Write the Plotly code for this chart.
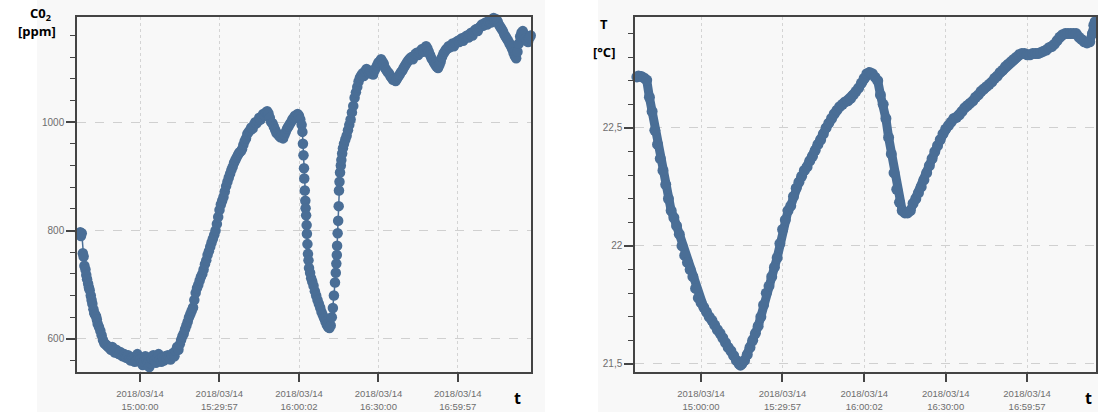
import pandas as pd
import plotly.graph_objects as go

# ---------------- data (minutes relative to 2018/03/14 15:00:00) ----------------
co2_minutes = [
    -22.6, -22.3, -22.0, -21.6, -21.3, -21.0, -20.6, -20.3, -20.0, -19.6, -19.3, -19.0,
    -18.6, -18.3, -18.0, -17.6, -17.3, -17.0, -16.6, -16.3, -16.0, -15.5, -15.0, -14.5,
    -14.0, -13.5, -13.0, -12.5, -12.0, -11.5, -11.0, -10.5, -10.0, -9.5, -9.0, -8.5,
    -8.0, -7.5, -7.0, -6.5, -6.0, -5.5, -5.0, -4.5, -4.0, -3.5, -3.0, -2.5, -2.0, -1.5,
    -1.0, -0.5, 0.0, 0.5, 1.0, 1.5, 2.0, 2.5, 3.0, 3.5, 4.0, 4.5, 5.0, 5.5, 6.0, 6.5,
    7.0, 7.5, 8.0, 8.5, 9.0, 9.5, 10.0, 10.5, 11.0, 11.5, 12.0, 12.5, 13.0, 13.5, 14.0,
    14.5, 15.0, 15.5, 16.0, 16.5, 17.0, 17.5, 18.0, 18.5, 19.0, 19.5, 20.0, 20.5, 21.0,
    21.5, 22.0, 22.5, 23.0, 23.5, 24.0, 24.5, 25.0, 25.5, 26.0, 26.5, 27.0, 27.5, 28.0,
    28.5, 29.0, 29.5, 30.0, 30.5, 31.0, 31.5, 32.0, 32.5, 33.0, 33.5, 34.0, 34.5, 35.0,
    35.5, 36.0, 36.5, 37.0, 37.5, 38.0, 38.5, 39.0, 39.5, 40.0, 40.5, 41.0, 41.5, 42.0,
    42.5, 43.0, 43.5, 44.0, 44.5, 45.0, 45.5, 46.0, 46.5, 47.0, 47.5, 48.0, 48.5, 49.0,
    49.5, 50.0, 50.5, 51.0, 51.5, 52.0, 52.5, 53.0, 53.5, 54.0, 54.5, 55.0, 55.5, 56.0,
    56.5, 57.0, 57.5, 58.0, 58.5, 59.0, 59.5, 60.0, 60.5, 61.0, 61.3, 61.5, 61.7, 61.9,
    62.0, 62.2, 62.4, 62.5, 62.7, 62.9, 63.0, 63.2, 63.4, 63.6, 63.8, 64.2, 64.6, 65.0,
    65.5, 66.0, 66.5, 67.0, 67.5, 68.0, 68.5, 69.0, 69.5, 70.0, 70.5, 71.0, 71.5, 72.0,
    72.4, 72.8, 73.2, 73.6, 73.9, 74.1, 74.3, 74.4, 74.6, 74.8, 75.0, 75.1, 75.3, 75.5,
    75.8, 76.0, 76.3, 76.6, 77.0, 77.5, 78.0, 78.5, 79.0, 79.5, 80.0, 80.5, 81.0, 81.5,
    82.0, 82.5, 83.0, 83.5, 84.0, 84.5, 85.0, 85.5, 86.0, 86.5, 87.0, 87.5, 88.0, 88.5,
    89.0, 89.5, 90.0, 90.5, 91.0, 91.5, 92.0, 92.5, 93.0, 93.5, 94.0, 94.5, 95.0, 95.5,
    96.0, 96.5, 97.0, 97.5, 98.0, 98.5, 99.0, 99.5, 100.0, 100.5, 101.0, 101.5, 102.0,
    102.5, 103.0, 103.5, 104.0, 104.5, 105.0, 105.5, 106.0, 106.5, 107.0, 107.5, 108.0,
    108.5, 109.0, 109.5, 110.0, 110.5, 111.0, 111.5, 112.0, 112.5, 113.0, 113.5, 114.0,
    114.5, 115.0, 115.5, 116.0, 116.5, 117.0, 117.5, 118.0, 118.5, 119.0, 119.5, 120.0,
    120.5, 121.0, 121.5, 122.0, 122.5, 123.0, 123.5, 124.0, 124.5, 125.0, 125.5, 126.0,
    126.5, 127.0, 127.5, 128.0, 128.5, 129.0, 129.5, 130.0, 130.5, 131.0, 131.5, 132.0,
    132.5, 133.0, 133.5, 134.0, 134.5, 135.0, 135.5, 136.0, 136.5, 137.0, 137.5, 138.0,
    138.5, 139.0, 139.5, 140.0, 140.5, 141.0, 141.5, 142.0, 142.5, 143.0, 143.5, 144.0,
    144.5, 145.0, 145.5, 146.0, 146.5, 147.0, 147.5,
]
co2_ppm = [
    797, 790, 795, 758, 752, 735, 728, 718, 710, 702, 695, 690,
    680, 672, 665, 655, 648, 645, 642, 636, 628, 622, 615, 607,
    598, 592, 590, 588, 585, 583, 580, 585, 578, 575, 580, 574,
    572, 576, 570, 568, 572, 566, 565, 570, 563, 560, 566, 562, 558, 560,
    572, 566, 562, 556, 552, 558, 568, 562, 556, 548, 555, 563, 570, 560, 556, 565,
    572, 562, 558, 566, 560, 568, 564, 570, 566, 562, 570, 574, 568, 578, 585,
    580, 590, 598, 605, 610, 618, 625, 632, 640, 646, 652, 658, 672, 685,
    694, 700, 708, 715, 720, 728, 738, 745, 755, 762, 770, 778, 785, 792,
    800, 812, 825, 838, 848, 855, 862, 872, 882, 890, 898, 905, 912, 918,
    925, 930, 935, 940, 944, 946, 950, 958, 965, 970, 978, 982, 985, 990,
    988, 995, 1000, 998, 1002, 1008, 1005, 1010, 1015, 1012, 1018, 1020, 1016, 1008,
    1000, 998, 992, 986, 980, 978, 975, 972, 975, 970, 976, 982, 988, 992,
    996, 1000, 1005, 1008, 1012, 1010, 1015, 1012, 1005, 995, 982, 960, 939, 915,
    896, 874, 855, 841, 828, 810, 794, 775, 757, 745, 731, 722, 712, 706,
    698, 688, 680, 672, 665, 658, 650, 644, 638, 632, 626, 622, 620, 625,
    640, 657, 680, 704, 722, 739, 755, 772, 795, 818, 845, 874, 890, 907,
    920, 930, 942, 952, 960, 968, 975, 985, 995, 1005, 1018, 1030, 1045, 1055,
    1065, 1075, 1082, 1086, 1090, 1085, 1094, 1098, 1096, 1090, 1094, 1090, 1088, 1095,
    1100, 1105, 1110, 1112, 1116, 1112, 1108, 1100, 1096, 1092, 1090, 1085, 1082, 1078,
    1080, 1076, 1080, 1084, 1088, 1092, 1095, 1100, 1104, 1108, 1112, 1115, 1118,
    1120, 1116, 1122, 1126, 1128, 1124, 1128, 1132, 1135, 1130, 1136, 1140,
    1136, 1130, 1124, 1118, 1114, 1110, 1106, 1102, 1100, 1105, 1112, 1120,
    1126, 1130, 1134, 1136, 1140, 1138, 1142, 1145, 1140, 1146, 1148, 1150,
    1148, 1152, 1155, 1150, 1156, 1158, 1160, 1156, 1162, 1165, 1160, 1166,
    1170, 1172, 1168, 1174, 1176, 1180, 1178, 1182, 1184, 1180, 1186, 1188,
    1184, 1190, 1192, 1188, 1190, 1186, 1180, 1176, 1172, 1168, 1162, 1158,
    1154, 1150, 1145, 1140, 1135, 1128, 1122, 1118, 1130, 1145, 1158, 1165,
    1168, 1162, 1155, 1150, 1148, 1155, 1160,
]

temp_minutes = [
    -23.6, -23.0, -22.0, -21.0, -20.0, -19.0, -18.0, -17.0, -16.0, -15.0, -14.0, -13.0,
    -12.0, -11.0, -10.0, -9.0, -8.0, -7.0, -6.0, -5.0, -4.0, -3.0, -2.0, -1.0, 0.0,
    1.0, 2.0, 3.0, 4.0, 5.0, 6.0, 7.0, 8.0, 9.0, 10.0, 11.0, 12.0, 13.0, 14.0, 14.5,
    15.0, 16.0, 17.0, 18.0, 19.0, 20.0, 21.0, 22.0, 23.0, 24.0, 25.0, 26.0, 27.0, 28.0,
    29.0, 30.0, 31.0, 32.0, 33.0, 34.0, 35.0, 36.0, 37.0, 38.0, 39.0, 40.0, 41.0, 42.0,
    43.0, 44.0, 45.0, 46.0, 47.0, 48.0, 49.0, 50.0, 51.0, 52.0, 53.0, 54.0, 55.0, 56.0,
    57.0, 58.0, 59.0, 60.0, 61.0, 62.0, 63.0, 64.0, 65.0, 66.0, 67.0, 68.0, 69.0, 70.0,
    71.0, 72.0, 73.0, 74.0, 75.0, 76.0, 77.0, 78.0, 79.0, 80.0, 81.0, 82.0, 83.0, 84.0,
    85.0, 86.0, 87.0, 88.0, 89.0, 90.0, 91.0, 92.0, 93.0, 94.0, 95.0, 96.0, 97.0, 98.0,
    99.0, 100.0, 101.0, 102.0, 103.0, 104.0, 105.0, 106.0, 107.0, 108.0, 109.0, 110.0,
    111.0, 112.0, 113.0, 114.0, 115.0, 116.0, 117.0, 118.0, 119.0, 120.0, 121.0, 122.0,
    123.0, 124.0, 125.0, 126.0, 127.0, 128.0, 129.0, 130.0, 131.0, 132.0, 133.0, 134.0,
    135.0, 136.0, 137.0, 138.0, 139.0, 140.0, 141.0, 142.0, 143.0, 144.0, 144.5, 145.0,
]
temp_c = [
    22.716, 22.72, 22.718, 22.712, 22.703, 22.63, 22.57, 22.49, 22.43, 22.37, 22.32, 22.26,
    22.20, 22.15, 22.12, 22.085, 22.05, 22.00, 21.96, 21.93, 21.90, 21.87, 21.82, 21.78, 21.76,
    21.74, 21.72, 21.70, 21.685, 21.665, 21.645, 21.63, 21.61, 21.59, 21.57, 21.555, 21.535, 21.515, 21.50, 21.495,
    21.50, 21.515, 21.54, 21.57, 21.60, 21.63, 21.66, 21.70, 21.75, 21.80, 21.83, 21.87, 21.91, 21.95,
    22.01, 22.07, 22.11, 22.15, 22.17, 22.21, 22.245, 22.27, 22.295, 22.32, 22.335, 22.36, 22.38, 22.405,
    22.43, 22.45, 22.475, 22.50, 22.52, 22.54, 22.56, 22.575, 22.59, 22.60, 22.61, 22.615, 22.625, 22.64,
    22.655, 22.67, 22.69, 22.71, 22.73, 22.735, 22.73, 22.715, 22.70, 22.64, 22.60, 22.54, 22.46, 22.39,
    22.31, 22.24, 22.185, 22.15, 22.14, 22.14, 22.15, 22.18, 22.20, 22.225, 22.25, 22.28, 22.31, 22.34,
    22.37, 22.40, 22.425, 22.45, 22.475, 22.495, 22.51, 22.525, 22.54, 22.545, 22.555, 22.57, 22.585, 22.595,
    22.605, 22.615, 22.63, 22.64, 22.655, 22.665, 22.675, 22.685, 22.695, 22.71, 22.72, 22.735,
    22.745, 22.76, 22.77, 22.78, 22.79, 22.80, 22.81, 22.815, 22.815, 22.81, 22.81, 22.815,
    22.815, 22.815, 22.82, 22.825, 22.83, 22.84, 22.845, 22.855, 22.87, 22.885, 22.895, 22.90,
    22.90, 22.90, 22.90, 22.90, 22.885, 22.875, 22.865, 22.86, 22.865, 22.90, 22.935, 22.95,
]

tick_times = ["2018-03-14 15:00:00", "2018-03-14 15:29:57", "2018-03-14 16:00:02",
              "2018-03-14 16:30:00", "2018-03-14 16:59:57"]
tick_labels = ["2018/03/14<br>15:00:00", "2018/03/14<br>15:29:57", "2018/03/14<br>16:00:02",
               "2018/03/14<br>16:30:00", "2018/03/14<br>16:59:57"]
co2_yticks = [600, 800, 1000]
temp_yticks = [21.5, 22.0, 22.5]
temp_ylabels = ["21,5", "22", "22,5"]

# ---------------- build ----------------
base = pd.Timestamp("2018-03-14 15:00:00")
co2_t = [base + pd.Timedelta(minutes=m) for m in co2_minutes]
temp_t = [base + pd.Timedelta(minutes=m) for m in temp_minutes]

W, H = 1098, 412
def px(x):
    return x / W
def py(y):
    return 1 - y / H

COLOR = "#4a6e96"
fig = go.Figure()
fig.add_trace(go.Scatter(x=co2_t, y=co2_ppm, mode="lines+markers", xaxis="x", yaxis="y",
                         line=dict(color=COLOR, width=1.5),
                         marker=dict(color=COLOR, size=10.5), cliponaxis=False,
                         showlegend=False))
fig.add_trace(go.Scatter(x=temp_t, y=temp_c, mode="lines+markers", xaxis="x2", yaxis="y2",
                         line=dict(color=COLOR, width=9),
                         marker=dict(color=COLOR, size=11), cliponaxis=False,
                         showlegend=False))

tickfont = dict(family="Liberation Sans, Arial, sans-serif", size=9.5, color="#6e6e6e")
common_x = dict(type="date", tickmode="array", tickvals=tick_times, ticktext=tick_labels,
                ticks="outside", ticklen=8, tickwidth=1.5, tickcolor="#444444",
                showline=True, linecolor="#444444", linewidth=1.5, mirror=True,
                showgrid=True, gridcolor="#d4d4d4", griddash="dot", gridwidth=1,
                tickfont=tickfont, zeroline=False, automargin=False, ticklabelstandoff=4)
common_y = dict(ticks="outside", ticklen=9, tickwidth=1.5, tickcolor="#444444",
                showline=True, linecolor="#444444", linewidth=1.5, mirror=True,
                showgrid=True, gridcolor="#d0d0d0", griddash="dash", gridwidth=1,
                tickfont=dict(tickfont, size=10), zeroline=False, tickmode="array",
                automargin=False)

x1_range = [base + pd.Timedelta(minutes=-23.8), base + pd.Timedelta(minutes=147.6)]
x2_range = [base + pd.Timedelta(minutes=-24.3), base + pd.Timedelta(minutes=145.3)]

fig.update_layout(
    width=W, height=H, margin=dict(l=0, r=0, t=0, b=0),
    paper_bgcolor="white", plot_bgcolor="#f8f8f8",
    xaxis=dict(common_x, domain=[px(77), px(531)], range=x1_range, anchor="y"),
    yaxis=dict(common_y, domain=[py(372), py(17)], range=[539, 1194], anchor="x",
               tickvals=co2_yticks, ticktext=[str(v) for v in co2_yticks],
               minor=dict(dtick=40, tick0=0, ticks="outside", ticklen=5, tickwidth=1.2,
                          tickcolor="#444444", showgrid=False)),
    xaxis2=dict(common_x, domain=[px(635), px(1096)], range=x2_range, anchor="y2"),
    yaxis2=dict(common_y, domain=[py(372), py(17)], range=[21.466, 22.97], anchor="x2",
                tickvals=temp_yticks, ticktext=temp_ylabels,
                minor=dict(dtick=0.1, tick0=0, ticks="outside", ticklen=5, tickwidth=1.2,
                           tickcolor="#444444", showgrid=False)),
    shapes=[
        dict(type="rect", xref="paper", yref="paper", x0=px(37), x1=px(545), y0=0, y1=1,
             fillcolor="#f8f8f8", line=dict(width=0), layer="below"),
        dict(type="rect", xref="paper", yref="paper", x0=px(598), x1=1, y0=0, y1=1,
             fillcolor="#f8f8f8", line=dict(width=0), layer="below"),
    ],
)

labfont = dict(family="Open Sans, DejaVu Sans, sans-serif", size=13, color="black")
ann = [
    dict(text="<b>C0<sub>2</sub></b>", x=px(40), y=py(14)),
    dict(text="<b>[ppm]</b>", x=px(37), y=py(31)),
    dict(text="<b>T</b>", x=px(604), y=py(24)),
    dict(text="<b>[°C]</b>", x=px(604), y=py(52)),
]
for a in ann:
    fig.add_annotation(xref="paper", yref="paper", showarrow=False, font=labfont,
                       xanchor="center", yanchor="middle", **a)
for xx in (517, 1088):
    fig.add_annotation(text="<b>t</b>", xref="paper", yref="paper", x=px(xx), y=py(398),
                       showarrow=False, xanchor="center", yanchor="middle",
                       font=dict(family="Open Sans, DejaVu Sans, sans-serif", size=16, color="black"))

fig.write_html("out.html", config={"displayModeBar": False},
               post_script="document.body.style.margin='0';document.body.style.overflow='hidden';")
